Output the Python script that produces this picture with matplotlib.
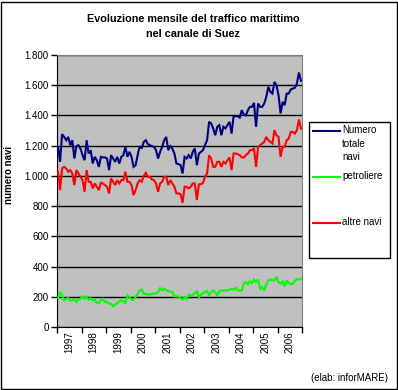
import matplotlib
matplotlib.use("Agg")
import matplotlib.pyplot as plt
from matplotlib.ticker import FuncFormatter, FixedLocator
from matplotlib.lines import Line2D
from matplotlib.patches import Rectangle

plt.rcParams['font.family'] = ['Liberation Sans', 'DejaVu Sans']

years = ['1997', '1998', '1999', '2000', '2001', '2002', '2003', '2004', '2005', '2006']

totale = [1192, 1093, 1276, 1258, 1236, 1258, 1203, 1236, 1115, 1197, 1203, 1181,
          1137, 1104, 1236, 1148, 1170, 1082, 1126, 1104, 1060, 1126, 1122, 1122,
          1115, 1038, 1137, 1115, 1093, 1126, 1082, 1126, 1137, 1192, 1126, 1159,
          1126, 1060, 1071, 1137, 1197, 1181, 1225, 1236, 1210, 1203, 1197, 1192,
          1170, 1115, 1159, 1192, 1236, 1258, 1170, 1197, 1181, 1148, 1082, 1078,
          1071, 1016, 1126, 1115, 1137, 1115, 1159, 1181, 1071, 1148, 1159, 1170,
          1203, 1236, 1358, 1347, 1314, 1269, 1325, 1336, 1269, 1325, 1314, 1336,
          1358, 1280, 1395, 1395, 1395, 1386, 1435, 1406, 1400, 1435, 1457, 1457,
          1483, 1325, 1479, 1457, 1457, 1479, 1523, 1589, 1556, 1545, 1622, 1600,
          1534, 1413, 1490, 1468, 1545, 1545, 1572, 1578, 1583, 1611, 1684, 1629]

petroliere = [191, 231, 209, 176, 187, 193, 176, 176, 182, 165, 182, 187,
              202, 187, 202, 180, 191, 176, 180, 160, 160, 176, 187, 165,
              165, 154, 154, 136, 149, 158, 169, 176, 171, 160, 209, 198,
              180, 180, 198, 220, 242, 246, 220, 220, 215, 215, 220, 220,
              224, 231, 257, 242, 253, 242, 238, 235, 231, 202, 202, 202,
              191, 182, 198, 185, 215, 209, 215, 224, 235, 198, 215, 224,
              233, 238, 209, 231, 242, 231, 209, 235, 242, 242, 242, 242,
              246, 253, 246, 260, 242, 242, 242, 291, 297, 282, 304, 291,
              313, 297, 315, 253, 264, 242, 282, 308, 315, 308, 308, 330,
              297, 286, 302, 268, 308, 291, 282, 286, 304, 319, 313, 319]

altre = [1027, 906, 1049, 1060, 1049, 1027, 1038, 1016, 939, 1038, 1016, 994,
         972, 895, 1038, 961, 961, 917, 950, 928, 906, 954, 950, 939,
         928, 884, 983, 961, 939, 972, 950, 972, 972, 1027, 961, 961,
         939, 873, 906, 950, 972, 961, 998, 1020, 994, 994, 976, 972,
         950, 895, 950, 961, 994, 994, 939, 972, 950, 928, 884, 884,
         879, 822, 928, 928, 917, 928, 950, 950, 840, 945, 945, 954,
         994, 1016, 1137, 1115, 1060, 1060, 1093, 1093, 1060, 1093, 1082, 1104,
         1122, 1038, 1148, 1148, 1144, 1137, 1122, 1122, 1137, 1148, 1170, 1170,
         1181, 1060, 1192, 1203, 1214, 1225, 1258, 1236, 1225, 1214, 1302, 1269,
         1258, 1126, 1192, 1192, 1236, 1247, 1291, 1291, 1280, 1302, 1373, 1313]

labels = ['Numero\ntotale\nnavi', 'petroliere', 'altre navi']
colors = ['#000080', '#00FF00', '#FF0000']

W, H = 398, 390
fig = plt.figure(figsize=(W / 100, H / 100), dpi=100)
ax = fig.add_axes([57 / W, 1 - 327 / H, (302 - 57) / W, (327 - 55) / H])
ax.set_facecolor('#C0C0C0')

x = [i + 0.5 for i in range(len(totale))]
for series, c in zip([totale, petroliere, altre], colors):
    ax.plot(x, series, color=c, lw=1.5, solid_joinstyle='miter', zorder=3)

ax.set_xlim(0, len(totale))
ax.set_ylim(0, 1800)
ax.yaxis.set_major_locator(FixedLocator(range(0, 1801, 200)))
ax.yaxis.set_major_formatter(FuncFormatter(lambda v, p: f"{int(v):,}".replace(',', '.')))
ax.grid(axis='y', color='black', lw=1)
ax.set_axisbelow(True)

ax.set_xticks([12 * k for k in range(len(years) + 1)])
ax.set_xticklabels([])
ax.set_xticks([12 * k + 6 for k in range(len(years))], minor=True)
ax.set_xticklabels(years, minor=True, rotation=90, fontsize=7)
ax.tick_params(axis='x', which='minor', length=0, pad=3)
ax.tick_params(axis='x', which='major', length=4, width=1, direction='out')
ax.tick_params(axis='y', length=4, width=1, direction='out', labelsize=7, pad=2)

for s in ['top', 'right']:
    ax.spines[s].set_color('#808080')
for s in ['left', 'bottom']:
    ax.spines[s].set_color('black')

fig.text(193 / W, 1 - 19 / H, 'Evoluzione mensile del traffico marittimo',
         ha='center', va='center', fontsize=7.8, fontweight='bold')
fig.text(193 / W, 1 - 34 / H, 'nel canale di Suez',
         ha='center', va='center', fontsize=7.8, fontweight='bold')
fig.text(9 / W, 1 - 175 / H, 'numero navi', rotation=90, ha='center', va='center',
         fontsize=7, fontweight='bold')
fig.text(388 / W, 1 - 378 / H, '(elab: inforMARE)', ha='right', va='center', fontsize=7)

# legend box
fig.add_artist(Rectangle((309 / W, 1 - 258 / H), (390 - 309) / W, (258 - 122) / H,
                         transform=fig.transFigure, facecolor='white',
                         edgecolor='black', lw=1))
legend_y = [131, 177, 223]
for lab, c, yy in zip(labels, colors, legend_y):
    fig.add_artist(Line2D([313 / W, 340 / W], [1 - yy / H, 1 - yy / H],
                          transform=fig.transFigure, color=c, lw=1.5))
    fig.text(342 / W, 1 - (yy - 6) / H, lab, ha='left', va='top', fontsize=7,
             linespacing=1.45)

# outer frame
fig.add_artist(Rectangle((0.5 / W, 1.5 / H), (W - 1.5) / W, (H - 3) / H,
                         transform=fig.transFigure, facecolor='none',
                         edgecolor='black', lw=1))

fig.savefig('out.png', dpi=100)
